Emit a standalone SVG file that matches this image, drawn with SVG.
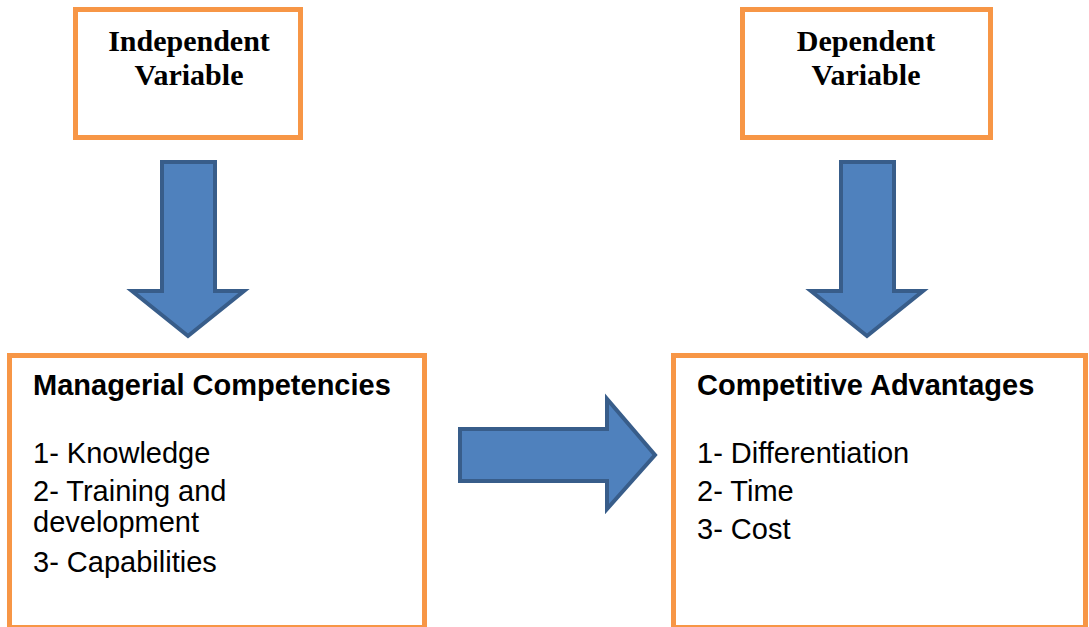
<svg xmlns="http://www.w3.org/2000/svg" width="1089" height="627" viewBox="0 0 1089 627">
<style>
.box{fill:#fff;stroke:#f79646;stroke-width:5}
.arr{fill:#4f81bd;stroke:#385d8a;stroke-width:4;stroke-linejoin:miter}
.tt{font-family:"Liberation Serif","Times New Roman",serif;font-weight:bold;font-size:30px;fill:#000;text-anchor:middle}
.hd{font-family:"Liberation Sans",Arial,sans-serif;font-weight:bold;font-size:29px;fill:#000}
.it{font-family:"Liberation Sans",Arial,sans-serif;font-size:29px;fill:#000}
</style>
<rect width="1089" height="627" fill="#fff"/>
<g id="independent">
<rect class="box" x="75.5" y="9.5" width="225" height="128"/>
<text class="tt" x="189" y="51">Independent</text>
<text class="tt" x="189" y="85">Variable</text>
</g>
<g id="dependent">
<rect class="box" x="742.5" y="9.5" width="248" height="128"/>
<text class="tt" x="866" y="51">Dependent</text>
<text class="tt" x="866" y="85">Variable</text>
</g>
<g id="managerial">
<rect class="box" x="9.5" y="355.5" width="415" height="272"/>
<text class="hd" x="33" y="395">Managerial Competencies</text>
<text class="it" x="33" y="463">1- Knowledge</text>
<text class="it" x="33" y="501">2- Training and</text>
<text class="it" x="33" y="532">development</text>
<text class="it" x="33" y="572">3- Capabilities</text>
</g>
<g id="competitive">
<rect class="box" x="673.5" y="355.5" width="412" height="272"/>
<text class="hd" x="697" y="395">Competitive Advantages</text>
<text class="it" x="697" y="463">1- Differentiation</text>
<text class="it" x="697" y="501">2- Time</text>
<text class="it" x="697" y="539">3- Cost</text>
</g>
<g id="connectors">
<polygon class="arr" points="162,162 215,162 215,291 244,291 188,336 132,291 162,291"/>
<polygon class="arr" points="841,162 894,162 894,291 923,291 867,336 811,291 841,291"/>
<polygon class="arr" points="460,429 607,429 607,399 655,455 607,509 607,481 460,481"/>
</g>
</svg>
